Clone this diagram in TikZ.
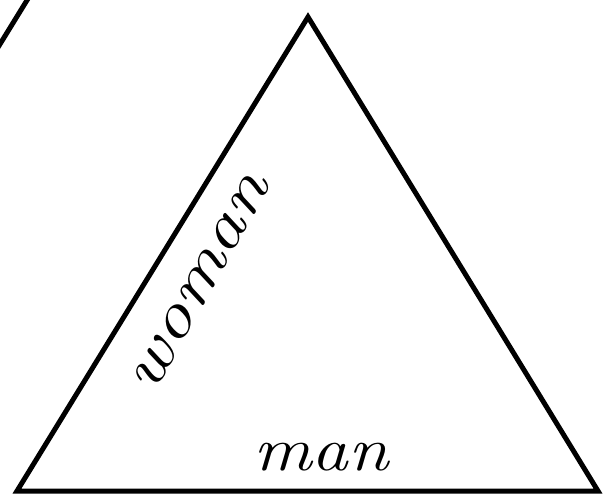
\documentclass[tikz,border=0pt]{standalone}
\begin{document}
\begin{tikzpicture}[x=1pt,y=-1pt,
  edge/.style={line width=5pt,line join=miter,black},
  word/.style={font=\fontsize{62}{62}\selectfont\itshape,inner sep=0pt}]
\useasboundingbox (0,0) rectangle (613,495);
\coordinate (apex) at (308,17);
\coordinate (bl) at (17,491);
\coordinate (br) at (598,491);
\draw[edge] (apex) -- (bl) -- (br) -- cycle;
\coordinate (s1) at (-3,49);
\coordinate (s2) at (29,-3);
\draw[edge] (s1) -- (s2);
\node[word,anchor=base,xscale=1.18] (man) at (321,470) {man};
\node[word,anchor=base,rotate=61,xscale=1.3] (woman) at (212,290) {woman};
\end{tikzpicture}
\end{document}
